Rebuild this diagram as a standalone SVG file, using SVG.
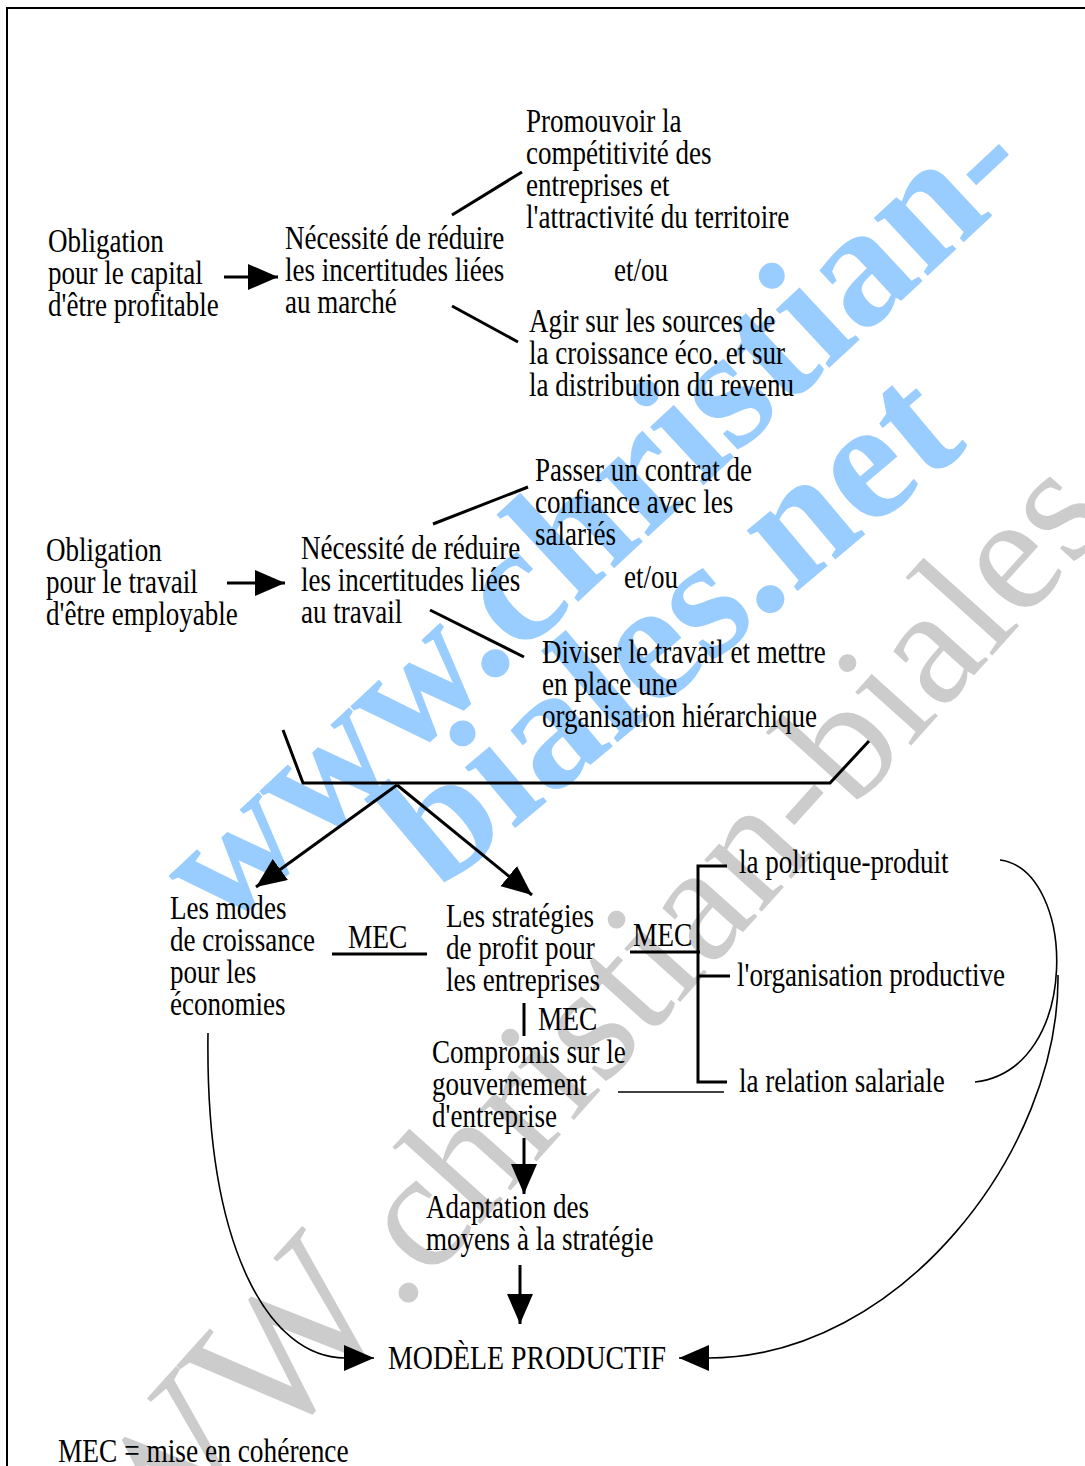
<svg xmlns="http://www.w3.org/2000/svg" width="1085" height="1466" viewBox="0 0 1085 1466">
<style>
.t{font-family:"Liberation Serif","Times New Roman",serif;font-size:33px;fill:#000}
.ln{stroke:#000;stroke-width:3;fill:none}
.th{stroke:#000;stroke-width:1.6;fill:none}
.wmb{font-family:"Liberation Serif","Times New Roman",serif;font-size:172px;font-weight:bold;fill:#99ccff}
.wmg{font-family:"Liberation Serif","Times New Roman",serif;font-size:168px;fill:#cccccc}
</style>
<defs>
<marker id="ah" markerUnits="userSpaceOnUse" markerWidth="32" markerHeight="28" refX="30" refY="13" orient="auto">
<path d="M0,0 L30,13 L0,26 z" fill="#000"/>
</marker>
</defs>
<rect x="0" y="0" width="1085" height="1466" fill="#fff"/>
<g id="watermark">
<text class="wmg" transform="translate(21,1734) rotate(-48)"><tspan font-size="200">WWW</tspan>.christian-biales</text>
<text class="wmb" transform="translate(222,934) rotate(-43)">www.christian-</text>
<text class="wmb" transform="translate(439,892) rotate(-40)">biales.net</text>
</g>
<rect id="frame" x="7" y="8" width="1100" height="1500" fill="none" stroke="#000" stroke-width="2"/>
<g id="connectors">
<line class="ln" x1="224" y1="277" x2="278" y2="277" marker-end="url(#ah)"/>
<line class="ln" x1="227" y1="583" x2="285" y2="583" marker-end="url(#ah)"/>
<line class="ln" x1="452" y1="215" x2="522" y2="172"/>
<line class="ln" x1="452" y1="306" x2="518" y2="342"/>
<line class="ln" x1="433" y1="524" x2="528" y2="487"/>
<line class="ln" x1="430" y1="610" x2="524" y2="657"/>
<path class="ln" d="M283,730 L303,783 L830,783 L869,741"/>
<line class="ln" x1="397" y1="785" x2="256" y2="887" marker-end="url(#ah)"/>
<line class="ln" x1="397" y1="785" x2="532" y2="895" marker-end="url(#ah)"/>
<line class="ln" x1="332" y1="954" x2="427" y2="954"/>
<line class="ln" x1="630" y1="952" x2="700" y2="952"/>
<path class="ln" d="M727,866 L698,866 L698,1082 L727,1082 M698,976 L730,976"/>
<line class="th" x1="618" y1="1092" x2="724" y2="1092"/>
<line class="ln" x1="524" y1="1003" x2="524" y2="1036"/>
<line class="ln" x1="524" y1="1138" x2="524" y2="1194" marker-end="url(#ah)"/>
<line class="ln" x1="520" y1="1265" x2="520" y2="1324" marker-end="url(#ah)"/>
<path class="th" d="M208,1033 C205,1250 270,1358 345,1358 L374,1358" marker-end="url(#ah)"/>
<path class="th" d="M1000,860 C1077,870 1082,1070 975,1082"/>
<path class="th" d="M1058,975 C1060,1150 900,1358 708,1358 L679,1358" marker-end="url(#ah)"/>
</g>
<g id="n-promouvoir" transform="translate(526,132) scale(0.82,1)"><text class="t"><tspan x="0" y="0">Promouvoir la</tspan><tspan x="0" dy="32">compétitivité des</tspan><tspan x="0" dy="32">entreprises et</tspan><tspan x="0" dy="32">l'attractivité du territoire</tspan></text></g>
<g id="n-oblig-capital" transform="translate(48,252) scale(0.82,1)"><text class="t"><tspan x="0" y="0">Obligation</tspan><tspan x="0" dy="32">pour le capital</tspan><tspan x="0" dy="32">d'être profitable</tspan></text></g>
<g id="n-necessite-marche" transform="translate(285,249) scale(0.82,1)"><text class="t"><tspan x="0" y="0">Nécessité de réduire</tspan><tspan x="0" dy="32">les incertitudes liées</tspan><tspan x="0" dy="32">au marché</tspan></text></g>
<g id="n-etou1" transform="translate(614,281) scale(0.82,1)"><text class="t">et/ou</text></g>
<g id="n-agir" transform="translate(529,332) scale(0.82,1)"><text class="t"><tspan x="0" y="0">Agir sur les sources de</tspan><tspan x="0" dy="32">la croissance éco. et sur</tspan><tspan x="0" dy="32">la distribution du revenu</tspan></text></g>
<g id="n-passer" transform="translate(535,481) scale(0.82,1)"><text class="t"><tspan x="0" y="0">Passer un contrat de</tspan><tspan x="0" dy="32">confiance avec les</tspan><tspan x="0" dy="32">salariés</tspan></text></g>
<g id="n-oblig-travail" transform="translate(46,561) scale(0.82,1)"><text class="t"><tspan x="0" y="0">Obligation</tspan><tspan x="0" dy="32">pour le travail</tspan><tspan x="0" dy="32">d'être employable</tspan></text></g>
<g id="n-necessite-travail" transform="translate(301,559) scale(0.82,1)"><text class="t"><tspan x="0" y="0">Nécessité de réduire</tspan><tspan x="0" dy="32">les incertitudes liées</tspan><tspan x="0" dy="32">au travail</tspan></text></g>
<g id="n-etou2" transform="translate(624,588) scale(0.82,1)"><text class="t">et/ou</text></g>
<g id="n-diviser" transform="translate(542,663) scale(0.82,1)"><text class="t"><tspan x="0" y="0">Diviser le travail et mettre</tspan><tspan x="0" dy="32">en place une</tspan><tspan x="0" dy="32">organisation hiérarchique</tspan></text></g>
<g id="n-modes" transform="translate(170,919) scale(0.82,1)"><text class="t"><tspan x="0" y="0">Les modes</tspan><tspan x="0" dy="32">de croissance</tspan><tspan x="0" dy="32">pour les</tspan><tspan x="0" dy="32">économies</tspan></text></g>
<g id="n-mec1" transform="translate(348,948) scale(0.83,1)"><text class="t">MEC</text></g>
<g id="n-strategies" transform="translate(446,927) scale(0.82,1)"><text class="t"><tspan x="0" y="0">Les stratégies</tspan><tspan x="0" dy="32">de profit pour</tspan><tspan x="0" dy="32">les entreprises</tspan></text></g>
<g id="n-mec2" transform="translate(633,946) scale(0.83,1)"><text class="t">MEC</text></g>
<g id="n-politique" transform="translate(739,873) scale(0.82,1)"><text class="t">la politique-produit</text></g>
<g id="n-organisation" transform="translate(737,986) scale(0.82,1)"><text class="t">l'organisation productive</text></g>
<g id="n-relation" transform="translate(739,1092) scale(0.82,1)"><text class="t">la relation salariale</text></g>
<g id="n-mec3" transform="translate(538,1030) scale(0.83,1)"><text class="t">MEC</text></g>
<g id="n-compromis" transform="translate(432,1063) scale(0.82,1)"><text class="t"><tspan x="0" y="0">Compromis sur le</tspan><tspan x="0" dy="32">gouvernement</tspan><tspan x="0" dy="32">d'entreprise</tspan></text></g>
<g id="n-adaptation" transform="translate(426,1218) scale(0.82,1)"><text class="t"><tspan x="0" y="0">Adaptation des</tspan><tspan x="0" dy="32">moyens à la stratégie</tspan></text></g>
<g id="n-modele" transform="translate(388,1369) scale(0.845,1)"><text class="t">MODÈLE PRODUCTIF</text></g>
<g id="n-legende" transform="translate(58,1462) scale(0.83,1)"><text class="t">MEC = mise en cohérence</text></g>
</svg>
